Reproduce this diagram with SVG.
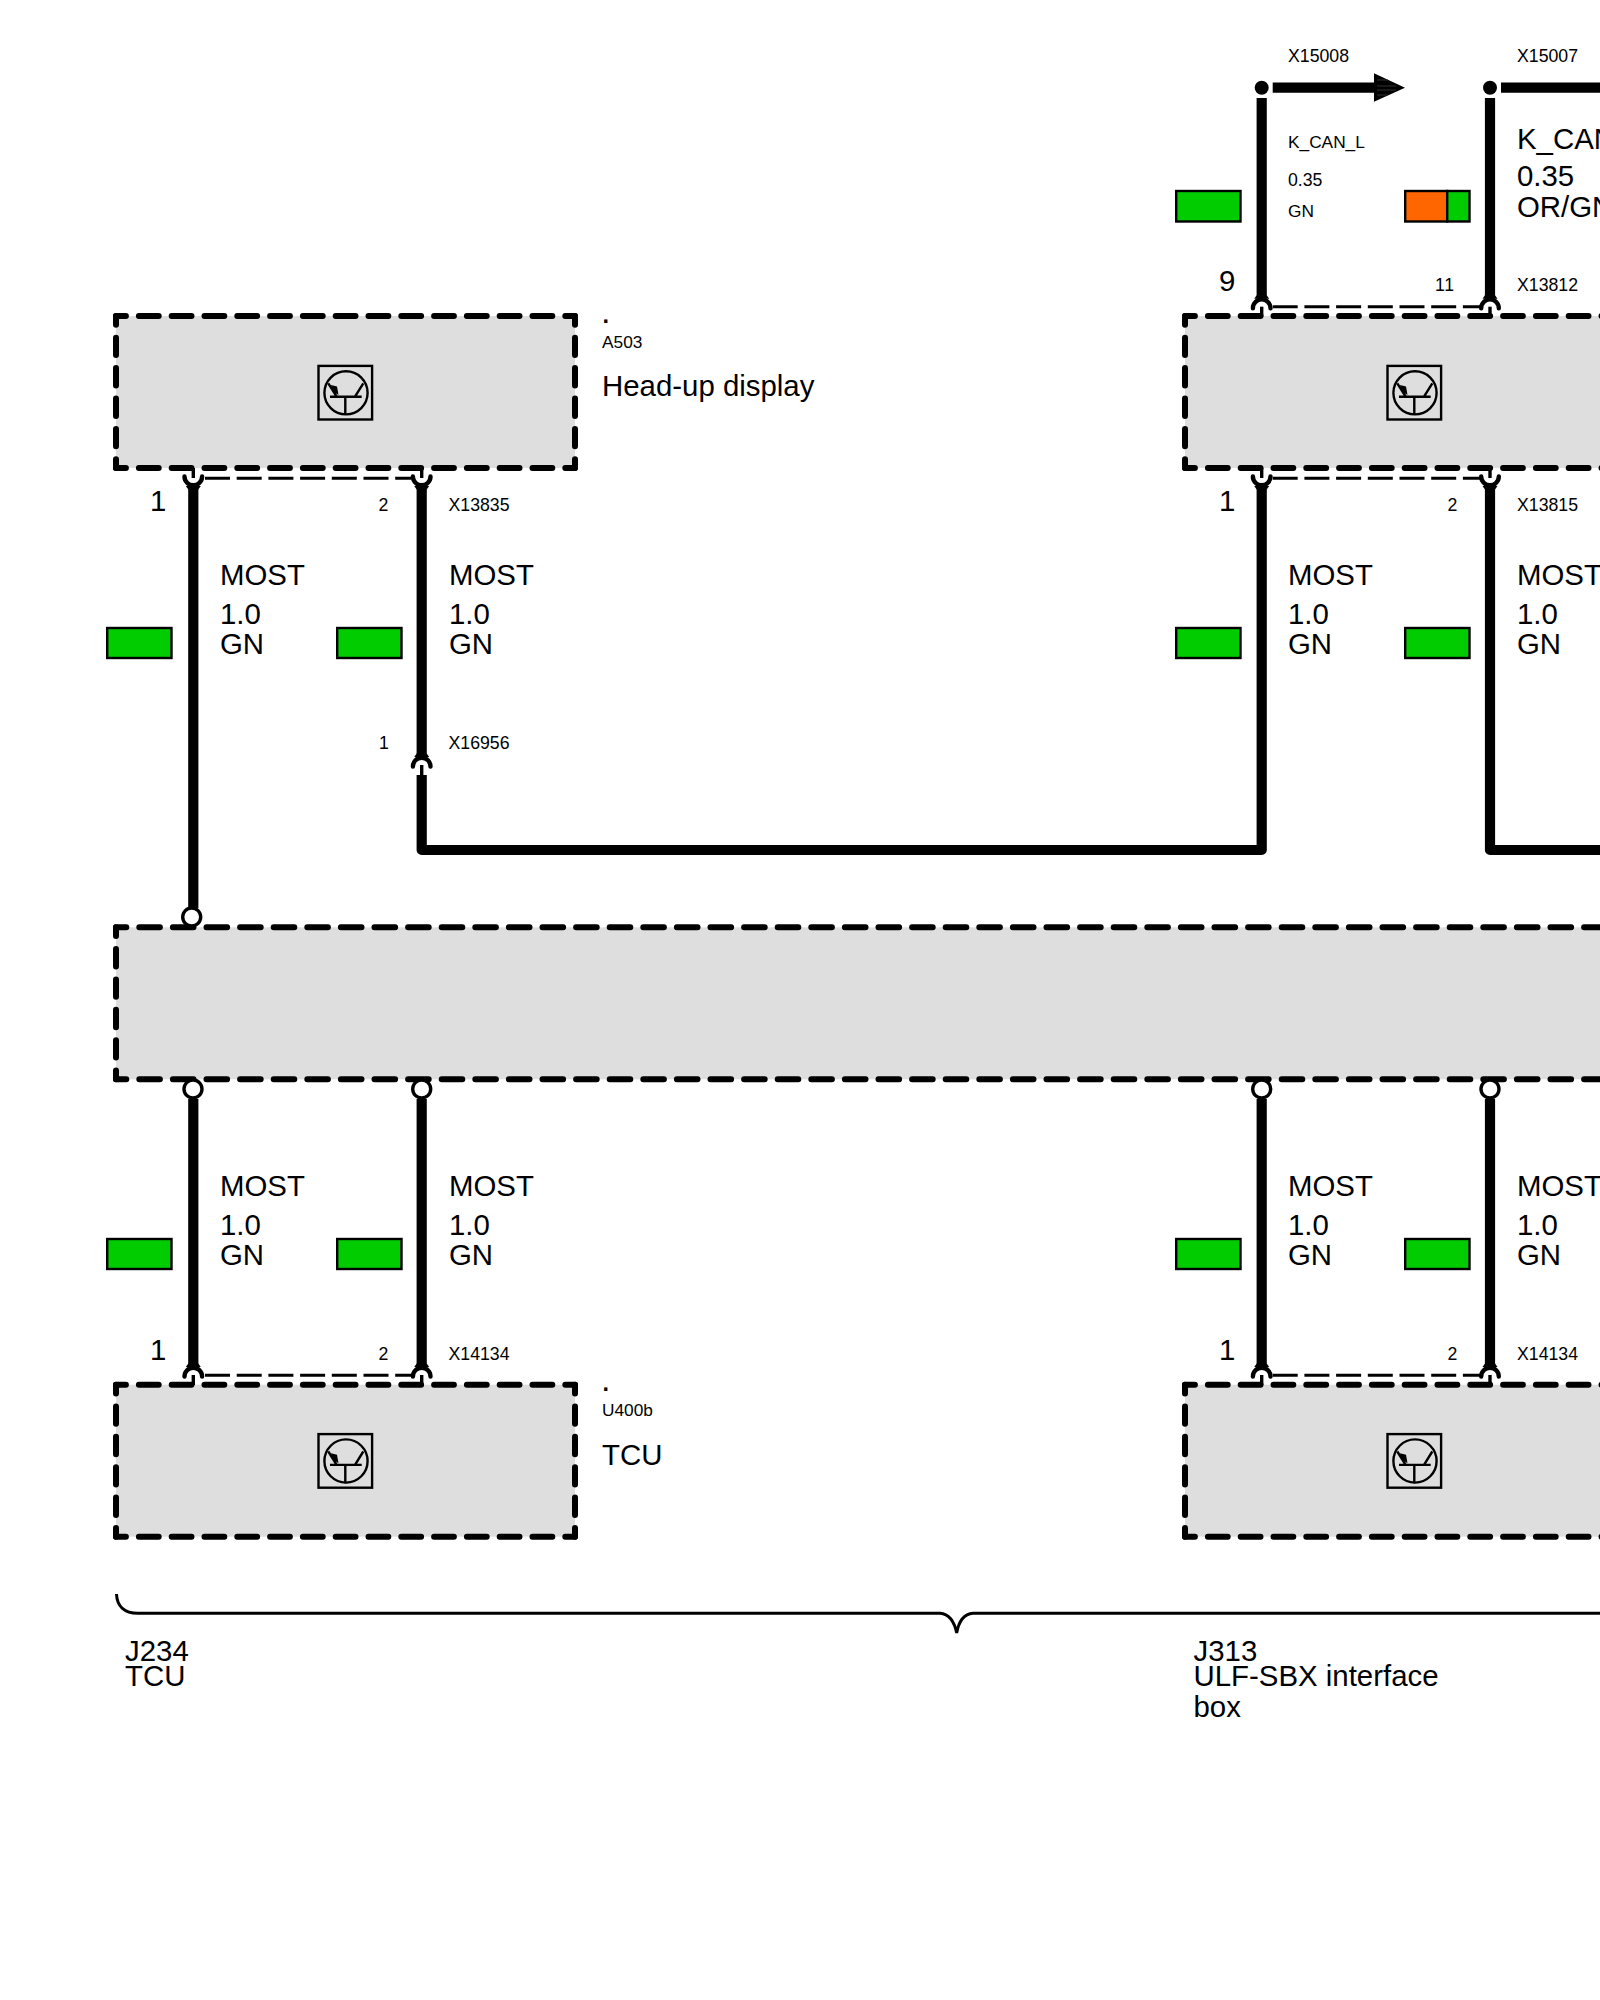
<svg xmlns="http://www.w3.org/2000/svg" xmlns:xlink="http://www.w3.org/1999/xlink" width="1600" height="2000" viewBox="0 0 1600 2000">
<style>
text{font-family:"Liberation Sans",Arial,sans-serif;fill:#000}
.s{font-size:17.3px}
.x{font-size:17.7px}
.l{font-size:29.4px}
.d{font-size:34px}
.fill{fill:#dedede;stroke:none}
.dh{fill:none;stroke:#000;stroke-width:6;stroke-linecap:round;stroke-dasharray:19.8 13;stroke-dashoffset:9.9}
.dv{fill:none;stroke:#000;stroke-width:6;stroke-linecap:round;stroke-dasharray:17.4 13;stroke-dashoffset:8.7}
.dm{fill:none;stroke:#000;stroke-width:6;stroke-linecap:round;stroke-dasharray:20.6 13;stroke-dashoffset:10.3}
.wire{fill:none;stroke:#000;stroke-width:10.2;stroke-linejoin:round}
.link{fill:none;stroke:#000;stroke-width:3;stroke-dasharray:25 6.7}
.pin{fill:none;stroke:#000;stroke-width:4.4;stroke-linecap:round}
.stub{fill:none;stroke:#000;stroke-width:3.4}
.open{fill:#fff;stroke:#000;stroke-width:3.4}
.ic{fill:none;stroke:#000;stroke-width:2.4}
.sw{stroke:#000;stroke-width:2.4}
.gn{fill:#00cc00}
.or{fill:#ff6600}
.brace{fill:none;stroke:#000;stroke-width:3}
</style>
<defs>
<g id="icon">
<rect class="ic" x="318.5" y="365.9" width="53.6" height="53.6"/>
<circle class="ic" cx="346" cy="392.8" r="21.6"/>
<path class="ic" d="M330 396.7H361.7M345.3 396.7V415M328.3 383.3L336.7 396.7M355 396.7L363.3 383.3"/>
<path d="M331 385L337 386.5L338.5 395L332.5 391Z" fill="#000"/>
</g>
<g id="module">
<rect class="fill" x="116" y="316" width="459" height="152"/>
<path class="dh" d="M116 316H575M116 468H575"/>
<path class="dv" d="M116 316V468M575 316V468"/>
</g>
<g id="pinTop">
<path class="pin" d="M-8.8 1.5A8.8 8.8 0 0 1 8.8 1.5"/>
<polygon points="-5,-11.5 5,-11.5 7.5,-8 -7.5,-8" fill="#000"/>
<path class="stub" d="M0 0V10"/>
</g>
<g id="pinBottom">
<path class="pin" d="M-8.8 -1.5A8.8 8.8 0 0 0 8.8 -1.5"/>
<polygon points="-5,11.5 5,11.5 7.5,8 -7.5,8" fill="#000"/>
<path class="stub" d="M0 0V-10"/>
</g>
</defs>

<g id="connectors">
<path class="wire" d="M1261.7 98V298"/>
<path class="wire" d="M1490 98V298"/>
<path class="wire" d="M1272.7 87.7H1376"/>
<polygon points="1374,73.3 1405,87.7 1374,101.7" fill="#000"/>
<path d="M1377 80H1388M1377 86H1396M1377 90H1396M1377 95H1388" stroke="#333" stroke-width="1" fill="none"/>
<path class="wire" d="M1501 87.7H1600"/>
<path class="wire" d="M193.3 486V908"/>
<path class="wire" d="M421.7 486V757"/>
<path class="wire" d="M421.7 775V850H1261.7V486"/>
<path class="wire" d="M1490 486V850H1600"/>
<path class="wire" d="M193.3 1099V1367"/>
<path class="wire" d="M421.7 1099V1367"/>
<path class="wire" d="M1261.7 1099V1367"/>
<path class="wire" d="M1490 1099V1367"/>
<path class="link" d="M1272.7 306.7H1481"/>
<path class="link" d="M205 478.3H411"/>
<path class="link" d="M1272.7 478.3H1481"/>
<path class="link" d="M205 1375.2H411"/>
<path class="link" d="M1272.7 1375.2H1481"/>
</g>

<g id="module-a503">
<use xlink:href="#module"/><use xlink:href="#icon"/>
<use xlink:href="#pinBottom" x="193.3" y="478"/><use xlink:href="#pinBottom" x="421.7" y="478"/>
<text class="d" x="601" y="322.7">.</text>
<text class="s" x="602" y="348">A503</text>
<text class="l" x="602" y="396">Head-up display</text>
</g>

<g id="module-upper-right">
<use xlink:href="#module" x="1069"/><use xlink:href="#icon" x="1069"/>
<use xlink:href="#pinTop" x="1261.7" y="306.7"/><use xlink:href="#pinTop" x="1490" y="306.7"/>
<use xlink:href="#pinBottom" x="1261.7" y="478"/><use xlink:href="#pinBottom" x="1490" y="478"/>
</g>

<g id="pin-x16956"><use xlink:href="#pinTop" x="421.7" y="765"/></g>

<g id="module-middle">
<rect class="fill" x="116" y="927.3" width="1490" height="152"/>
<path class="dm" d="M116 927.3H1610M116 1079.3H1610"/>
<path class="dv" d="M116 927.3V1079.3"/>
<circle class="open" cx="191.7" cy="917" r="9"/>
<circle class="open" cx="193" cy="1089" r="9"/>
<circle class="open" cx="421.7" cy="1089" r="9"/>
<circle class="open" cx="1261.7" cy="1089" r="9"/>
<circle class="open" cx="1490" cy="1089" r="9"/>
</g>

<g id="module-u400b">
<use xlink:href="#module" y="1068.7"/><use xlink:href="#icon" y="1068.2"/>
<use xlink:href="#pinTop" x="193.3" y="1375"/><use xlink:href="#pinTop" x="421.7" y="1375"/>
<text class="d" x="601" y="1391">.</text>
<text class="s" x="602" y="1416">U400b</text>
<text class="l" x="602" y="1465">TCU</text>
</g>

<g id="module-lower-right">
<use xlink:href="#module" x="1069" y="1068.7"/><use xlink:href="#icon" x="1069" y="1068.2"/>
<use xlink:href="#pinTop" x="1261.7" y="1375"/><use xlink:href="#pinTop" x="1490" y="1375"/>
</g>

<g id="terminals">
<circle cx="1261.7" cy="87.7" r="7" fill="#000"/>
<circle cx="1490" cy="87.7" r="7" fill="#000"/>
</g>

<g id="swatches">
<rect class="sw gn" x="1176.2" y="191" width="64.3" height="30.5"/>
<rect class="sw or" x="1405.2" y="191" width="42" height="30.5"/>
<rect class="sw gn" x="1447.2" y="191" width="22.3" height="30.5"/>
<rect class="sw gn" x="107.2" y="628" width="64.3" height="30"/>
<rect class="sw gn" x="337.2" y="628" width="64.3" height="30"/>
<rect class="sw gn" x="1176.2" y="628" width="64.3" height="30"/>
<rect class="sw gn" x="1405.2" y="628" width="64.3" height="30"/>
<rect class="sw gn" x="107.2" y="1239" width="64.3" height="30"/>
<rect class="sw gn" x="337.2" y="1239" width="64.3" height="30"/>
<rect class="sw gn" x="1176.2" y="1239" width="64.3" height="30"/>
<rect class="sw gn" x="1405.2" y="1239" width="64.3" height="30"/>
</g>

<g id="labels">
<text class="x" x="1288" y="62">X15008</text>
<text class="x" x="1517" y="62">X15007</text>
<text class="s" x="1288" y="148">K_CAN_L</text>
<text class="x" x="1288" y="186">0.35</text>
<text class="s" x="1288" y="217">GN</text>
<text class="l" x="1517" y="148.5">K_CAN_H</text>
<text class="l" x="1517" y="186">0.35</text>
<text class="l" x="1517" y="217">OR/GN</text>
<text class="l" x="1219" y="291">9</text>
<text class="x" x="1435" y="291" letter-spacing="0.8">11</text>
<text class="x" x="1517" y="291">X13812</text>

<text class="l" x="150" y="511">1</text>
<text class="x" x="378.5" y="510.7">2</text>
<text class="x" x="448.5" y="510.7">X13835</text>
<text class="l" x="1219" y="511">1</text>
<text class="x" x="1447.5" y="510.7">2</text>
<text class="x" x="1517" y="510.7">X13815</text>

<text class="x" x="379" y="749">1</text>
<text class="x" x="448.5" y="749">X16956</text>

<text class="l" x="220" y="585">MOST</text><text class="l" x="220" y="624.3">1.0</text><text class="l" x="220" y="653.5">GN</text>
<text class="l" x="449" y="585">MOST</text><text class="l" x="449" y="624.3">1.0</text><text class="l" x="449" y="653.5">GN</text>
<text class="l" x="1288" y="585">MOST</text><text class="l" x="1288" y="624.3">1.0</text><text class="l" x="1288" y="653.5">GN</text>
<text class="l" x="1517" y="585">MOST</text><text class="l" x="1517" y="624.3">1.0</text><text class="l" x="1517" y="653.5">GN</text>

<text class="l" x="220" y="1196">MOST</text><text class="l" x="220" y="1234.5">1.0</text><text class="l" x="220" y="1264.5">GN</text>
<text class="l" x="449" y="1196">MOST</text><text class="l" x="449" y="1234.5">1.0</text><text class="l" x="449" y="1264.5">GN</text>
<text class="l" x="1288" y="1196">MOST</text><text class="l" x="1288" y="1234.5">1.0</text><text class="l" x="1288" y="1264.5">GN</text>
<text class="l" x="1517" y="1196">MOST</text><text class="l" x="1517" y="1234.5">1.0</text><text class="l" x="1517" y="1264.5">GN</text>

<text class="l" x="150" y="1360">1</text>
<text class="x" x="378.5" y="1360">2</text>
<text class="x" x="448.5" y="1360">X14134</text>
<text class="l" x="1219" y="1360">1</text>
<text class="x" x="1447.5" y="1360">2</text>
<text class="x" x="1517" y="1360">X14134</text>
</g>

<g id="bracket">
<path class="brace" d="M116.5 1594C117 1606 124 1613.3 138 1613.3H940C948 1614 954 1620 956.7 1633C959 1620 965 1614 973 1613.3H1600"/>
<text class="l" x="125" y="1661">J234</text>
<text class="l" x="125" y="1685.7">TCU</text>
<text class="l" x="1193.5" y="1661">J313</text>
<text class="l" x="1193.5" y="1685.7">ULF-SBX interface</text>
<text class="l" x="1193.5" y="1716.7">box</text>
</g>
</svg>
